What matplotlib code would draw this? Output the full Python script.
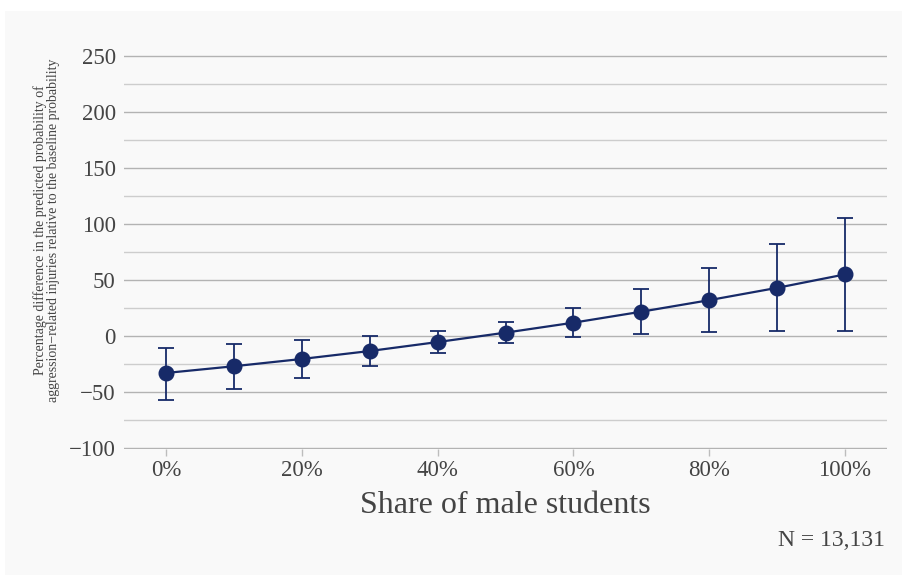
import matplotlib
matplotlib.use("Agg")
import matplotlib.pyplot as plt
from matplotlib.patches import Rectangle
from matplotlib.ticker import MultipleLocator

# share of male students (%) and estimated percentage difference with 95% CI
share = [0, 10, 20, 30, 40, 50, 60, 70, 80, 90, 100]
estimate = [-33, -27, -20.5, -13.4, -5.4, 3, 11.9, 21.7, 32, 43, 55]
ci_low = [-57, -47, -37.5, -26.8, -15, -6, -1.2, 1.8, 3.3, 4.4, 4.4]
ci_high = [-10.7, -7, -3.5, 0, 4.5, 12.5, 25, 41.7, 60.7, 82.4, 105.6]
xticks = [0, 20, 40, 60, 80, 100]
xticklabels = ["0%", "20%", "40%", "60%", "80%", "100%"]

navy = "#172a68"
txt = "#444444"
plt.rcParams["font.family"] = ["Liberation Serif", "DejaVu Serif"]

fig = plt.figure(figsize=(9.02, 5.75), dpi=100)
fig.patch.set_facecolor("white")
fig.patches.append(Rectangle((5 / 902, 0), 897 / 902, 564 / 575,
                             transform=fig.transFigure, facecolor="#f9f9f9",
                             edgecolor="none", zorder=-10))

ax = fig.add_axes([124 / 902, 1 - 449 / 575, 763 / 902, 399 / 575])
ax.set_facecolor("none")
ax.set_xlim(-6.2, 106.2)
ax.set_ylim(-100.9, 255.4)

yerr = [[e - lo for e, lo in zip(estimate, ci_low)],
        [hi - e for e, hi in zip(estimate, ci_high)]]
ax.errorbar(share, estimate, yerr=yerr, color=navy, ecolor=navy,
            elinewidth=1.3, capsize=5.5, capthick=1.3, lw=1.6,
            marker="o", markersize=10.5, zorder=3)

ax.yaxis.set_major_locator(MultipleLocator(50))
ax.yaxis.set_minor_locator(MultipleLocator(25))
ax.grid(axis="y", which="major", color="#b3b3b3", lw=1.0)
ax.grid(axis="y", which="minor", color="#cdcdcd", lw=1.0)
ax.set_axisbelow(True)
for s in ax.spines.values():
    s.set_visible(False)

ax.set_xticks(xticks)
ax.set_xticklabels(xticklabels)
ax.tick_params(axis="x", length=5, width=1, color="#bdbdbd", labelcolor=txt,
               labelsize=16.5, pad=3)
ax.tick_params(axis="y", which="both", length=0, labelcolor=txt,
               labelsize=16.5, pad=6)

ax.set_xlabel("Share of male students", fontsize=23, color=txt, labelpad=7)
fig.text(47 / 902, 1 - 230 / 575,
         "Percentage difference in the predicted probability of\n"
         "aggression\u2212related injuries relative to the baseline probability",
         rotation=90, ha="center", va="center", fontsize=10, color=txt,
         linespacing=1.0)
fig.text(885 / 902, 1 - 540 / 575, "N = 13,131", ha="right", va="center",
         fontsize=17, color=txt)

fig.savefig("out.png", dpi=100)
